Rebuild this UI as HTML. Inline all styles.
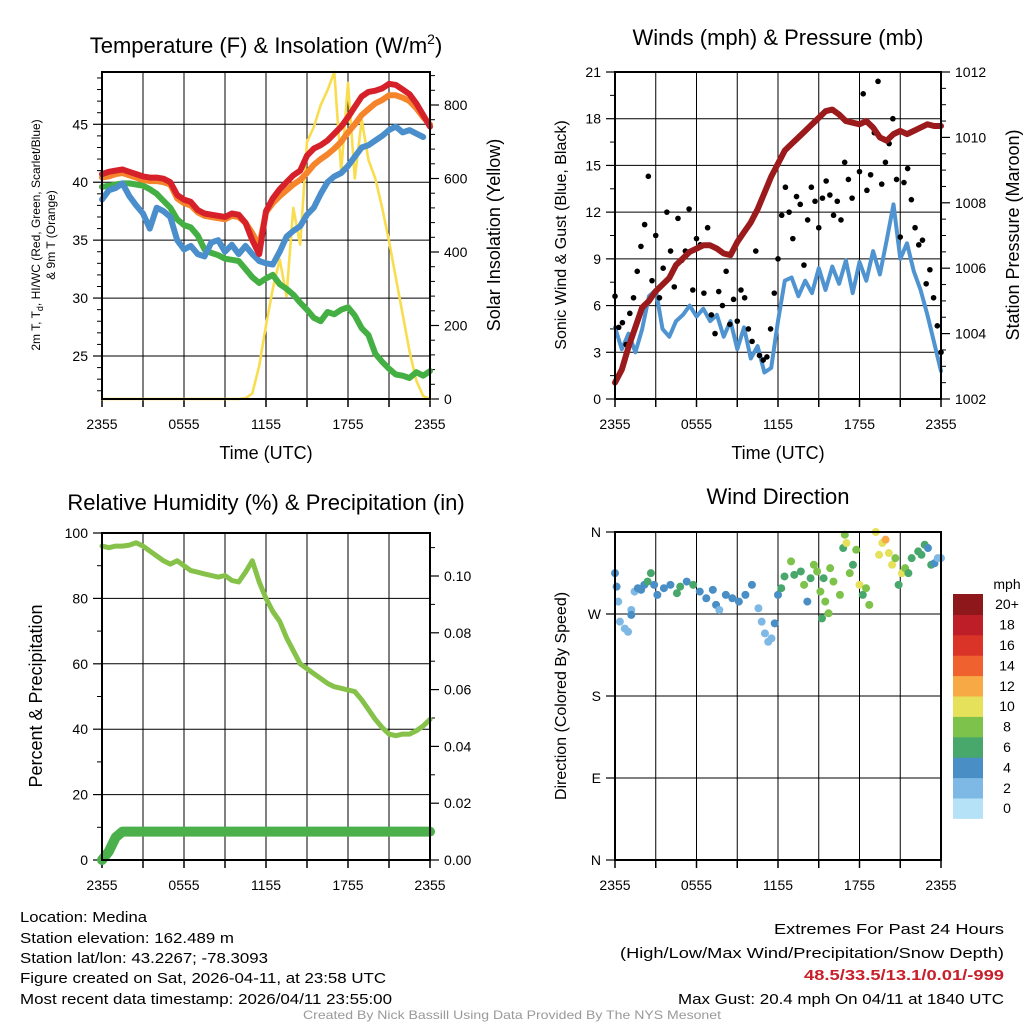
<!DOCTYPE html>
<html><head><meta charset="utf-8"><style>
html,body{margin:0;padding:0;background:#fff}
svg{display:block}
text{font-family:"Liberation Sans",sans-serif;fill:#000}
</style></head><body>
<svg id="chart" width="1024" height="1024" viewBox="0 0 1024 1024" xmlns="http://www.w3.org/2000/svg">
<g id="p1"></g>
<g id="p2"></g>
<g id="p3"></g>
<g id="p4"></g>
<g id="legend"></g>
<g font-size="15">
<text x="20" y="922" textLength="127" lengthAdjust="spacingAndGlyphs">Location: Medina</text>
<text x="20" y="943" textLength="214" lengthAdjust="spacingAndGlyphs">Station elevation: 162.489 m</text>
<text x="20" y="963" textLength="248" lengthAdjust="spacingAndGlyphs">Station lat/lon: 43.2267; -78.3093</text>
<text x="20" y="983" textLength="366" lengthAdjust="spacingAndGlyphs">Figure created on Sat, 2026-04-11, at 23:58 UTC</text>
<text x="20" y="1004" textLength="372" lengthAdjust="spacingAndGlyphs">Most recent data timestamp: 2026/04/11 23:55:00</text>
</g>
<g font-size="15" text-anchor="end">
<text x="1004" y="934" textLength="230" lengthAdjust="spacingAndGlyphs">Extremes For Past 24 Hours</text>
<text x="1004" y="958" textLength="384" lengthAdjust="spacingAndGlyphs">(High/Low/Max Wind/Precipitation/Snow Depth)</text>
<text x="1004" y="980" textLength="200" lengthAdjust="spacingAndGlyphs" font-weight="bold" style="fill:#c8202a">48.5/33.5/13.1/0.01/-999</text>
<text x="1004" y="1004" textLength="326" lengthAdjust="spacingAndGlyphs">Max Gust: 20.4 mph On 04/11 at 1840 UTC</text>
</g>
<text x="512" y="1019" font-size="12" text-anchor="middle" textLength="418" lengthAdjust="spacingAndGlyphs" style="fill:#999">Created By Nick Bassill Using Data Provided By The NYS Mesonet</text>
</svg>
<script>
const xTickLabels = ["2355","0555","1155","1755","2355"];
const tRed = [40.7,40.9,41.0,41.1,40.9,40.7,40.5,40.4,40.4,40.3,40.0,38.9,38.5,38.3,37.6,37.3,37.2,37.1,37.0,37.3,37.2,36.5,35.0,33.8,37.5,38.6,39.4,40.0,40.6,41.0,42.3,42.9,43.2,43.6,44.2,44.8,45.6,46.5,47.4,47.8,47.9,48.1,48.5,48.4,48.0,47.6,46.8,45.8,44.8];
const tOrange = [40.4,40.5,40.7,40.8,40.6,40.4,40.2,40.1,40.1,40.0,39.8,38.6,38.2,38.0,37.4,37.1,37.0,36.9,36.8,37.1,37.0,36.5,35.6,34.5,37.4,38.2,38.8,39.3,39.8,40.2,40.8,41.5,42.0,42.4,42.9,43.5,44.3,45.0,45.8,46.3,46.8,47.1,47.5,47.5,47.3,47.0,46.4,45.6,45.0];
const tBlue = [38.5,39.3,39.5,39.9,38.8,38.0,37.3,36.0,37.8,37.5,37.0,35.0,34.2,34.5,33.8,33.6,34.8,35.0,34.0,34.6,33.8,34.5,33.8,33.2,33.0,32.9,34.0,35.3,35.8,36.2,37.2,37.8,39.0,40.0,40.5,40.8,41.4,42.2,43.0,43.2,43.6,44.0,44.5,44.8,44.3,44.5,44.2,43.9];
const tGreen = [39.6,39.7,39.8,39.9,39.9,39.8,39.7,39.4,39.0,38.4,37.8,36.8,36.3,36.1,35.4,34.2,33.9,33.7,33.4,33.3,33.2,32.5,31.8,31.3,31.7,32.0,31.2,30.8,30.3,29.6,29.0,28.3,28.0,28.8,28.6,29.0,29.2,28.5,27.4,26.8,25.2,24.5,23.9,23.4,23.3,23.1,23.6,23.3,23.7];
const solar = [0,0,0,0,0,0,0,0,0,0,0,0,0,0,0,0,0,0,0,0,0,2,15,90,200,300,380,280,520,420,700,740,800,840,890,620,860,600,760,650,600,520,430,330,230,130,50,8,0];
const tempTicks = [25,30,35,40,45];
const solarTicks = [0,200,400,600,800];
const windSpd = [4.6,3.2,4.2,3.0,4.5,6.6,7.0,4.5,4.0,5.0,5.4,6.0,5.3,5.8,5.0,5.4,4.0,5.0,3.2,4.6,2.6,3.4,1.7,2.0,5.0,7.6,7.8,6.6,7.6,6.8,8.4,7.0,8.5,7.4,8.9,6.8,8.8,7.6,9.5,8.0,10.2,12.5,9.0,10.0,8.2,7.0,5.4,3.6,1.8];
const gusts = [6.6,4.6,4.9,3.5,5.5,6.5,8.2,9.8,11.2,14.3,7.6,10.5,6.5,8.4,12.0,9.5,7.2,11.6,8.9,9.5,12.2,7.0,10.3,9.9,6.8,11.0,5.4,4.2,6.9,6.0,8.2,4.8,6.4,5.0,7.0,6.5,4.5,3.7,9.5,2.8,2.5,2.7,4.5,6.8,9.0,11.8,13.6,12.0,10.3,13.0,12.5,8.6,11.5,13.6,12.7,11.0,12.9,14.0,13.1,11.8,12.7,11.5,15.2,14.1,12.9,17.7,14.6,19.6,13.4,14.4,17.1,20.4,13.8,15.2,16.4,18.0,14.1,10.4,13.9,14.8,12.8,11.0,9.9,10.2,7.4,8.3,6.5,4.7,3.0];
const pressure = [1002.5,1002.9,1003.6,1004.2,1004.8,1005.0,1005.3,1005.5,1005.7,1006.1,1006.3,1006.5,1006.6,1006.7,1006.7,1006.6,1006.45,1006.4,1006.8,1007.1,1007.4,1007.8,1008.3,1008.8,1009.2,1009.6,1009.8,1010.0,1010.2,1010.4,1010.6,1010.8,1010.85,1010.7,1010.5,1010.45,1010.4,1010.5,1010.3,1010.0,1009.9,1010.1,1010.2,1010.1,1010.2,1010.3,1010.4,1010.35,1010.35];
const windTicks = [0,3,6,9,12,15,18,21];
const presTicks = [1002,1004,1006,1008,1010,1012];
const rh = [96,95.5,96,96,96.3,97,96,94.5,93,91.5,90.5,91.5,90,88.5,88,87.5,87,86.5,87,85.5,85,88,91.5,85,80,76,73,68,64,60,58.5,57,55.5,54,53,52.5,52,51.5,49,46,43,40.5,38.5,38,38.5,38.5,39.5,41,43];
const precip = [0,0.003,0.008,0.01,0.01,0.01,0.01,0.01,0.01,0.01,0.01,0.01,0.01,0.01,0.01,0.01,0.01,0.01,0.01,0.01,0.01,0.01,0.01,0.01,0.01,0.01,0.01,0.01,0.01,0.01,0.01,0.01,0.01,0.01,0.01,0.01,0.01,0.01,0.01,0.01,0.01,0.01,0.01,0.01,0.01,0.01,0.01,0.01,0.01];
const rhTicks = [0,20,40,60,80,100];
const precipTicks = ["0.00","0.02","0.04","0.06","0.08","0.10"];
const dirHours = [0,0.12,0.24,0.36,0.72,0.96,1.2,1.2,1.44,1.68,1.92,2.16,2.4,2.64,2.88,3.12,3.6,4.08,4.56,4.8,5.28,5.76,6.24,6.72,7.2,7.44,7.68,8.16,8.64,9.12,9.6,10.08,10.56,10.8,11.04,11.28,11.52,11.76,12.0,12.24,12.48,12.96,13.2,13.68,13.92,14.16,14.4,14.64,14.88,15.12,15.24,15.36,15.48,15.72,15.84,16.08,16.56,16.8,16.92,17.04,17.28,17.52,17.76,18.0,18.24,18.48,18.72,19.2,19.44,19.68,19.92,20.16,20.4,20.64,20.88,21.12,21.36,21.6,21.84,22.32,22.56,22.8,23.04,23.28,23.52,23.76,24.0];
const dirDeg = [314.8,300,283.6,261.6,254,250.5,274.4,269,294.6,298.3,296.5,302,305.6,314.8,302,291,298.3,302,292.8,300,305.6,302,294.6,287.3,296.5,280,274.4,291,287.3,283.6,291,302,276.3,261.6,248.7,239.5,243.2,259.7,291,298.3,311.2,327.7,313,316.7,302,283.6,309.3,324,316.7,294.6,265.2,309.3,283.6,270.8,320.3,305.6,291,342.4,357,347.9,314.8,324,340.5,302,291,298.3,280,360,335,347.9,351.6,336.9,324,331.3,302,314.8,320.3,314.8,331.3,338.7,335,346,342.4,324,325.7,331.3,331.3];
const dirSpd = [4,4,2,2,2,2,2,4,2,4,4,4,6,6,4,4,4,4,6,6,4,6,4,4,4,4,2,4,4,4,4,4,2,2,2,2,2,4,4,6,6,8,6,6,8,4,6,8,8,8,6,6,8,8,8,8,8,6,8,10,8,6,8,10,6,8,8,10,10,10,12,10,10,8,6,10,8,6,6,6,6,6,4,6,4,2,2];
const dirTickLabels = ["N","E","S","W","N"];
const legendLabels = ["0","2","4","6","8","10","12","14","16","18","20+"];
const legendColors = ["#b6e2f8","#7db9e4","#4a8ec6","#48a86c","#7dc24a","#e6e15a","#f7a945","#ef6230","#da3429","#be1e27","#8e171b"];

const NS="http://www.w3.org/2000/svg";
function mk(parent,tag,attrs,txt){const e=document.createElementNS(NS,tag);for(const k in attrs)e.setAttribute(k,attrs[k]);if(txt!==undefined)e.textContent=txt;parent.appendChild(e);return e;}
function lin(d0,d1,r0,r1){return v=>r0+(v-d0)/(d1-d0)*(r1-r0);}

function frame(g,P,yTicks,ys,yLabels,ysR,rTicks,rLabels,minorL,minorR){
  const sx=lin(0,24,P.x0,P.x1);
  for(let h=3;h<24;h+=3){const l=mk(g,'line',{x1:sx(h),x2:sx(h),y1:P.y0,y2:P.y1,stroke:'#000','stroke-width':1});
    }
  yTicks.forEach(v=>{const y=ys(v);if(Math.abs(y-P.y0)<1||Math.abs(y-P.y1)<1)return;const l=mk(g,'line',{x1:P.x0,x2:P.x1,y1:y,y2:y,stroke:'#000','stroke-width':1});
    });
  for(let h=0;h<=24;h+=3){const l=mk(g,'line',{x1:sx(h),x2:sx(h),y1:P.y1,y2:P.y1+8,stroke:'#000','stroke-width':1.5});
    }
  xTickLabels.forEach((s,i)=>{const t=mk(g,'text',{x:sx(i*6),y:P.y1+30,'font-size':14,'text-anchor':'middle'},s);
    });
  yTicks.forEach((v,i)=>{const y=ys(v);mk(g,'line',{x1:P.x0-9,x2:P.x0,y1:y,y2:y,stroke:'#000','stroke-width':1.2});
    const t=mk(g,'text',{x:P.x0-14,y:y+5,'font-size':14,'text-anchor':'end'},yLabels[i]);
    });
  (minorL||[]).forEach(v=>{const y=ys(v);mk(g,'line',{x1:P.x0-5,x2:P.x0,y1:y,y2:y,stroke:'#000','stroke-width':1});});
  if(ysR){rTicks.forEach((v,i)=>{const y=ysR(v);mk(g,'line',{x1:P.x1,x2:P.x1+9,y1:y,y2:y,stroke:'#000','stroke-width':1.2});
    const t=mk(g,'text',{x:P.x1+14,y:y+5,'font-size':14},rLabels[i]);
    });
    (minorR||[]).forEach(v=>{const y=ysR(v);mk(g,'line',{x1:P.x1,x2:P.x1+5,y1:y,y2:y,stroke:'#000','stroke-width':1});});}
  return sx;
}
function border(g,P){const r=mk(g,'rect',{x:P.x0,y:P.y0,width:P.x1-P.x0,height:P.y1-P.y0,fill:'none',stroke:'#000','stroke-width':2});
  }
function line(g,arr,sx,sy,color,w,name,n){const N=n||48;let d='';arr.forEach((v,i)=>{d+=(i?'L':'M')+sx(i*24/N).toFixed(1)+','+sy(v).toFixed(1);});
  const p=mk(g,'path',{d:d,fill:'none',stroke:color,'stroke-width':w,'stroke-linejoin':'round','stroke-linecap':'round'});
  return p;}
function title(g,x,y,s,size){const t=mk(g,'text',{x:x,y:y,'font-size':size||22,'text-anchor':'middle'});t.innerHTML=s;
  return t;}
function vlabel(g,x,y,s,size,name){const t=mk(g,'text',{x:x,y:y,'font-size':size,'text-anchor':'middle',transform:`rotate(-90 ${x} ${y})`});t.innerHTML=s;
  return t;}
function range(a,b,s){const r=[];for(let v=a;v<=b+1e-9;v+=s)r.push(+v.toFixed(4));return r;}

(function(){const g=document.getElementById('p1');const P={x0:102,x1:430,y0:72,y1:399};
 const ys=lin(25,45,356,124.3), ysR=lin(0,800,399,105);
 const sx=frame(g,P,tempTicks,ys,tempTicks.map(String),ysR,solarTicks,solarTicks.map(String),range(22,49,1).filter(v=>v%5).filter(v=>ys(v)>P.y0),range(0,880,40).filter(v=>v%200));
 line(g,solar,sx,ysR,'#f9dd4e',2.6,'solar-insolation-line');
 line(g,tGreen,sx,ys,'#44b044',6,'dewpoint-line');
 line(g,tBlue,sx,ys,'#4a8fcc',6,'windchill-line');
 line(g,tOrange,sx,ys,'#f5842a',6,'temp-9m-line');
 line(g,tRed,sx,ys,'#d6212a',6,'temp-2m-line');
 border(g,P);
 title(g,266,53,'Temperature (F) &amp; Insolation (W/m<tspan dy="-9" font-size="14">2</tspan><tspan dy="9">)</tspan>');
 const t=mk(g,'text',{x:266,y:459,'font-size':18,'text-anchor':'middle'},'Time (UTC)');
 vlabel(g,40,235,'2m T, T<tspan dy="3" font-size="9">d</tspan><tspan dy="-3">, HI/WC (Red, Green, Scarlet/Blue)</tspan>',12,'y-axis-title');
 vlabel(g,55,235,'&amp; 9m T (Orange)',12,'y-axis-title-line2');
 vlabel(g,500,235,'Solar Insolation (Yellow)',18,'right-axis-title');
})();
(function(){const g=document.getElementById('p2');const P={x0:615,x1:941,y0:72,y1:399};
 const ys=lin(0,21,399,72), ysR=lin(1002,1012,399,72);
 const sx=frame(g,P,windTicks,ys,windTicks.map(String),ysR,presTicks,presTicks.map(String),range(1.5,19.5,3),range(1002.5,1011.5,0.5).filter(v=>v%2));
 line(g,windSpd,sx,ys,'#4f94d0',4,'sonic-wind-line');
 gusts.forEach((v,i)=>{const c=mk(g,'circle',{cx:sx(i*24/(gusts.length-1)),cy:ys(v),r:2.8,fill:'#000'});
   });
 line(g,pressure,sx,ysR,'#9b1a1c',6,'pressure-line');
 border(g,P);
 title(g,778,45,'Winds (mph) &amp; Pressure (mb)');
 const t=mk(g,'text',{x:778,y:459,'font-size':18,'text-anchor':'middle'},'Time (UTC)');
 vlabel(g,566,235,'Sonic Wind &amp; Gust (Blue, Black)',16,'y-axis-title');
 vlabel(g,1019,235,'Station Pressure (Maroon)',18,'right-axis-title');
})();
(function(){const g=document.getElementById('p3');const P={x0:102,x1:430,y0:533,y1:860};
 const ys=lin(0,100,860,533), ysR=lin(0,0.10,860,576);
 const sx=frame(g,P,rhTicks,ys,rhTicks.map(String),ysR,precipTicks.map(Number),precipTicks,range(10,90,20),range(0.01,0.11,0.02));
 line(g,rh,sx,ys,'#86c24a',5,'rh-line');
 line(g,precip,sx,ysR,'#4bb04b',10,'precip-line');
 border(g,P);
 title(g,266,510,'Relative Humidity (%) &amp; Precipitation (in)');
 vlabel(g,42,696,'Percent &amp; Precipitation',18,'y-axis-title');
})();
(function(){const g=document.getElementById('p4');const P={x0:615,x1:941,y0:532,y1:860};
 const ys=lin(0,360,860,532);
 const sx=frame(g,P,[0,90,180,270,360],ys,dirTickLabels,null);
 const cidx=s=>Math.min(10,Math.round(s/2));
 dirDeg.forEach((v,i)=>{const c=mk(g,'circle',{cx:sx(dirHours[i]),cy:ys(v),r:4,fill:legendColors[cidx(dirSpd[i])]});
   });
 border(g,P);
 title(g,778,504,'Wind Direction');
 vlabel(g,566,696,'Direction (Colored By Speed)',16,'y-axis-title');
})();
(function(){const g=document.getElementById('legend');const top=594,h=20.4;
 mk(g,'text',{x:1007,y:589,'font-size':14,'text-anchor':'middle'},'mph');
 legendLabels.forEach((s,i)=>{const y=top+(10-i)*h;const r=mk(g,'rect',{x:953,y:y,width:30,height:h+0.5,fill:legendColors[i]});
   
   const t=mk(g,'text',{x:1007,y:y+h/2+5,'font-size':14,'text-anchor':'middle'},s);
   });
})();
</script>
</body></html>
